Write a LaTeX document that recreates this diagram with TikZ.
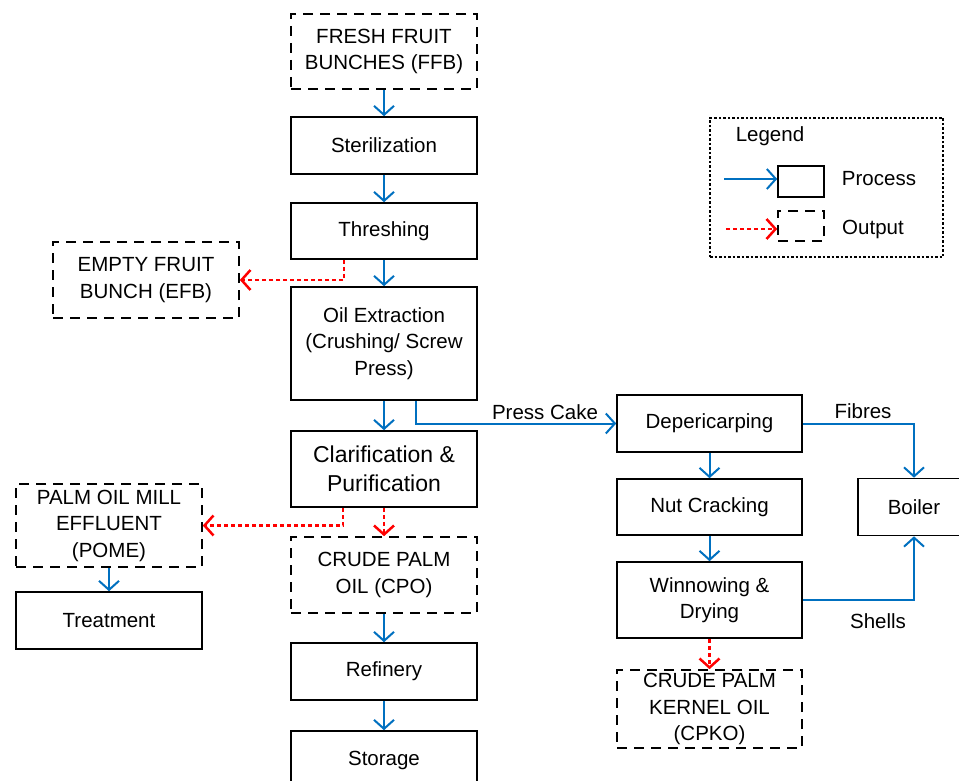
\documentclass[tikz,border=0pt]{standalone}
\usepackage{fontspec}
\setmainfont{Liberation Sans}
\usetikzlibrary{arrows.meta}
\definecolor{flowblue}{HTML}{0070C0}
\definecolor{outred}{HTML}{FF0000}

\begin{document}
\begin{tikzpicture}[x=1pt,y=-1pt,
  font=\fontsize{20.5}{26.5}\selectfont,
  procbox/.style={draw=black, line width=1.6pt, minimum width=186pt, align=center, inner sep=0pt},
  outbox/.style={procbox, dash pattern=on 10pt off 7pt},
  flow/.style={draw=flowblue, line width=2pt, -{Straight Barb[length=9pt,width=20pt]}},
  outflow/.style={draw=outred, line width=2.5pt, dash pattern=on 4pt off 3pt, -{Straight Barb[length=9pt,width=20pt]}},
  bigtext/.style={font=\fontsize{23}{29}\selectfont},
  lbl/.style={inner sep=0pt}]
\clip (0,0) rectangle (959,781);
\fill[white] (0,0) rectangle (959,781);

% main line
\node[outbox, minimum height=75pt] (ffb) at (384,51.5) {FRESH FRUIT\\BUNCHES (FFB)};
\node[procbox, minimum height=57pt] (ster) at (384,145.5) {Sterilization};
\node[procbox, minimum height=56pt] (thr) at (384,231) {Threshing};
\node[procbox, minimum height=113pt] (oil) at (384,343.5) {Oil Extraction\\(Crushing/ Screw\\Press)};
\node[procbox, bigtext, minimum height=76pt] (clar) at (384,469) {Clarification \&\\Purification};
\node[outbox, minimum height=76pt] (cpo) at (384,575) {CRUDE PALM\\OIL (CPO)};
\node[procbox, minimum height=57pt] (ref) at (384,671.5) {Refinery};
\node[procbox, minimum height=58pt] (stor) at (384,760) {Storage};

% side outputs
\node[outbox, minimum height=76pt] (efb) at (146,280) {EMPTY FRUIT\\BUNCH (EFB)};
\node[outbox, minimum height=83pt] (pome) at (109,525.5) {PALM OIL MILL\\EFFLUENT\\(POME)};
\node[procbox, minimum height=57pt] (treat) at (109,620.5) {Treatment};

% kernel line
\node[procbox, minimum width=185pt, minimum height=57pt] (dep) at (709.5,423.5) {Depericarping};
\node[procbox, minimum width=185pt, minimum height=56pt] (nut) at (709.5,507) {Nut Cracking};
\node[procbox, minimum width=185pt, minimum height=76pt] (win) at (709.5,600) {Winnowing \&\\Drying};
\node[outbox, minimum width=185pt, minimum height=78pt] (cpko) at (709.5,709) {CRUDE PALM\\KERNEL OIL\\(CPKO)};
\node[procbox, minimum width=112pt, minimum height=57pt] (boil) at (914,507) {Boiler};

% connectors
\draw[flow] (ffb) -- (ster);
\draw[flow] (ster) -- (thr);
\draw[flow] (thr) -- (oil);
\draw[flow] (oil) -- (clar);
\draw[outflow] ([xshift=-40pt]thr.south) |- (efb.east);
\draw[outflow] ([xshift=-41pt]clar.south) |- (pome.east);
\draw[outflow] (clar) -- (cpo);
\draw[flow] (cpo) -- (ref);
\draw[flow] (ref) -- (stor);
\draw[flow] (pome) -- (treat);
\draw[flow] ([xshift=32pt]oil.south) |- (dep.west);
\draw[flow] (dep) -- (nut);
\draw[flow] (nut) -- (win);
\draw[outflow] (win) -- (cpko);
\draw[flow] (dep.east) -| (boil.north);
\draw[flow] (win.east) -| (boil.south);

% connector labels
\node[lbl] (presscake) at (545,412) {Press Cake};
\node[lbl] (fibres) at (863,411) {Fibres};
\node[lbl] (shells) at (878,621) {Shells};

% legend
\node[draw=black, line width=1.3pt, dash pattern=on 2.5pt off 2pt, minimum width=233pt, minimum height=139pt] (legend) at (826.5,187.5) {};
\node[lbl] (legtitle) at (770,136) {Legend};
\coordinate (pstart) at (724,179);
\node[draw=black, line width=1.6pt, minimum width=46pt, minimum height=31pt] (procsym) at (801,181.5) {};
\coordinate (ostart) at (726,229);
\node[draw=black, line width=1.6pt, dash pattern=on 10pt off 7pt, minimum width=46pt, minimum height=30pt] (outsym) at (801,226) {};
\draw[flow] (pstart) -- (procsym.west |- pstart);
\draw[outflow] (ostart) -- (outsym.west |- ostart);
\node[lbl] (proctext) at (879,179) {Process};
\node[lbl] (outtext) at (873,229) {Output};
\end{tikzpicture}
\end{document}
